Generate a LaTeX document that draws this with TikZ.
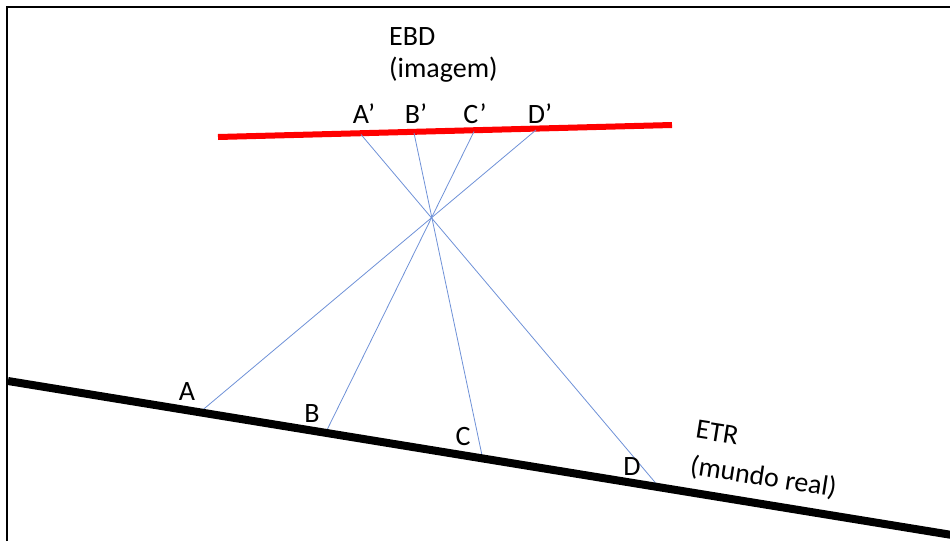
\documentclass[tikz,border=0pt]{standalone}
\usepackage{fontspec}
\setmainfont{Carlito}
\begin{document}
\begin{tikzpicture}[x=1pt,y=-1pt,
  lbl/.style={font=\fontsize{28}{32}\selectfont, inner sep=0pt, anchor=base},
  lblw/.style={font=\fontsize{28}{32}\selectfont, inner sep=0pt, anchor=base west, align=left},
  ray/.style={draw={rgb,255:red,110;green,145;blue,215}, line width=0.8pt},
  frameline/.style={line width=2pt, black},
  image/.style={line width=6pt, red},
  world/.style={line width=8pt, black}]
\useasboundingbox (0,0) rectangle (950,541);
% frame
\draw[frameline] (7,541) -- (7,7) -- (950,7);
% lines
\coordinate (r1) at (218,137);
\coordinate (r2) at (672,125);
\coordinate (w1) at (8,381);
\coordinate (w2) at (952,535);
\draw[image] (r1) -- (r2);
% points on image plane
\coordinate (Ap) at (361,134.5);
\coordinate (Bp) at (414,133);
\coordinate (Cp) at (474,131.5);
\coordinate (Dp) at (536,130);
% points on world plane
\coordinate (A) at (199,413);
\coordinate (B) at (325,434);
\coordinate (C) at (483,460);
\coordinate (D) at (659,487);
\draw[ray] (Ap) -- (D);
\draw[ray] (Bp) -- (C);
\draw[ray] (Cp) -- (B);
\draw[ray] (Dp) -- (A);
\draw[world] (w1) -- (w2);
% labels
\node[lblw, font=\fontsize{28}{32}\selectfont] (ebd) at (389,77) {EBD\\(imagem)};
\node[lbl] (lAp) at (364,123) {A’};
\node[lbl] (lBp) at (416,123) {B’};
\node[lbl] (lCp) at (475,123) {C’};
\node[lbl] (lDp) at (540,123) {D’};
\node[lbl] (lA) at (187,400) {A};
\node[lbl] (lB) at (312,422) {B};
\node[lbl] (lC) at (463,445) {C};
\node[lbl] (lD) at (632,475) {D};
\node[lblw, rotate=-9, font=\fontsize{28}{36.5}\selectfont] (etr) at (689,474) {ETR\\(mundo real)};
\end{tikzpicture}
\end{document}
